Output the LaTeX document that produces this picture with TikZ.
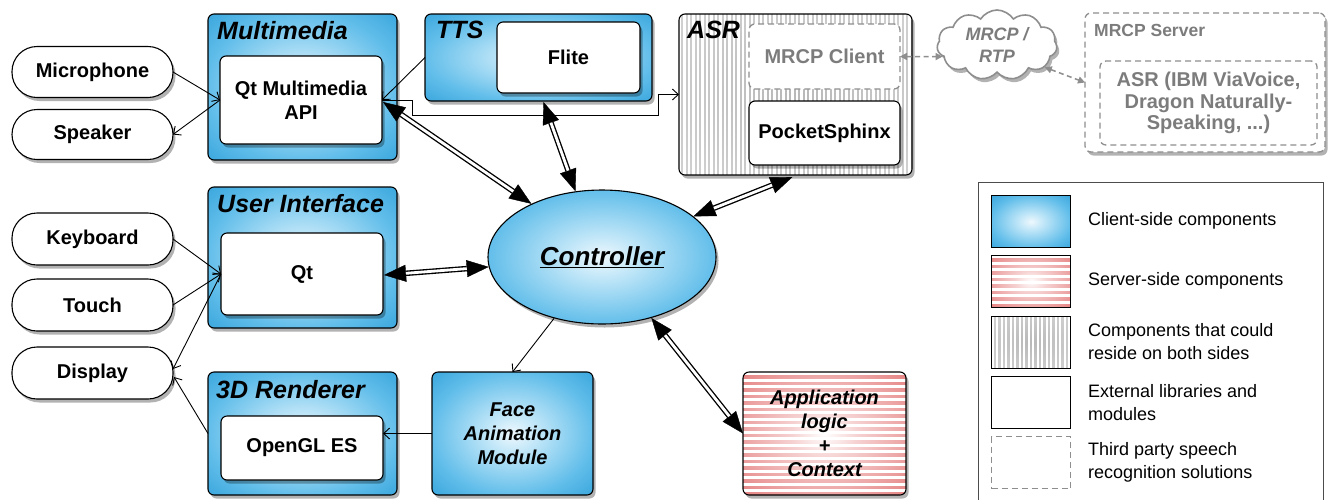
\documentclass[tikz,border=0pt]{standalone}
\usepackage{fontspec}
\setmainfont{Liberation Sans}
\usetikzlibrary{arrows.meta,shapes.geometric,shapes.symbols,shadows,calc}
\definecolor{bA}{HTML}{EEF8FD}
\definecolor{bB}{HTML}{C0E6F8}
\definecolor{bC}{HTML}{62BEEA}
\definecolor{bD}{HTML}{2298D5}
\definecolor{bE}{HTML}{1187C6}
\definecolor{rA}{HTML}{FFFFFF}
\definecolor{rB}{HTML}{F6D2D2}
\definecolor{rC}{HTML}{E68484}
\definecolor{rD}{HTML}{DB6464}
\definecolor{gA}{HTML}{B8B8B8}
\definecolor{gB}{HTML}{DCDCDC}
\definecolor{txtgray}{HTML}{7C7C7C}
\definecolor{dashgray}{HTML}{8E8E8E}
\pgfdeclareradialshading{bluerad}{\pgfpoint{0bp}{0bp}}{color(0bp)=(bA); color(8bp)=(bB); color(25bp)=(bC); color(42bp)=(bD); color(50bp)=(bE)}
\pgfdeclareradialshading{redrad}{\pgfpoint{0bp}{0bp}}{color(0bp)=(rA); color(10bp)=(rB); color(35bp)=(rC); color(50bp)=(rD)}
\pgfdeclareradialshading{grayrad}{\pgfpoint{0bp}{0bp}}{color(0bp)=(gA); color(50bp)=(gB)}
\tikzset{
  base/.style={draw=black, line width=1.1pt, rounded corners=6pt, inner sep=0pt, outer sep=0pt, align=center},
  shadowed/.style={drop shadow={shadow xshift=2.5pt, shadow yshift=-3.5pt, opacity=0.3, fill=black}},
  lbl/.style={font=\fontsize{20}{24}\selectfont\bfseries},
  ilbl/.style={font=\fontsize{20}{24}\selectfont\bfseries\itshape},
  client/.style={base, shadowed, shading=bluerad, ilbl},
  lib/.style={base, shadowed, fill=white, lbl},
  pill/.style={base, shadowed, fill=white, rounded corners=25pt, lbl, minimum width=161pt},
  ttl/.style={font=\fontsize{25}{30}\selectfont\bfseries\itshape, anchor=base west, inner sep=0pt},
  hstripes/.style={path picture={
      \foreach \k in {0,6.5,...,200}{
        \draw[white,line width=3pt] ($(path picture bounding box.north west)+(0,\k+1.5)$) -- ($(path picture bounding box.north east)+(0,\k+1.5)$);}}},
  vstripes/.style={path picture={
      \foreach \k in {0,4.5,...,260}{
        \draw[white,line width=2.2pt] ($(path picture bounding box.north west)+(\k+1,0)$) -- ($(path picture bounding box.south west)+(\k+1,0)$);}}},
  server/.style={base, shadowed, shading=redrad, hstripes, ilbl},
  both/.style={base, shadowed, shading=grayrad, vstripes},
  third/.style={base, draw=dashgray, line width=1.3pt, dash pattern=on 6pt off 4pt, fill=white},
  arr/.style={line width=0.9pt, -{Straight Barb[length=6pt,width=11pt]}},
  dasharr/.style={draw=dashgray, line width=1.5pt, dash pattern=on 5pt off 3.5pt, {Triangle[length=7pt,width=7pt]}-{Triangle[length=7pt,width=7pt]}},
  legtxt/.style={anchor=west, align=left, inner sep=0pt, font=\fontsize{18}{23}\selectfont},
  swatch/.style={draw=black, line width=1.2pt, minimum width=79pt, minimum height=52pt, inner sep=0pt, anchor=north west}
}
\newcommand\dblarr[2]{%
  \draw[line width=5.5pt, {Triangle[length=22pt,width=17pt,line width=0.4pt]}-{Triangle[length=22pt,width=17pt,line width=0.4pt]}] #1 -- #2;
  \draw[white, line width=2.8pt, shorten <=22pt, shorten >=22pt] #1 -- #2;}
\begin{document}
\begin{tikzpicture}[x=1pt,y=-1pt]
\useasboundingbox (0,0) rectangle (1332,499);
\fill[white] (0,0) rectangle (1332,499);

% left pills
\node[pill, minimum height=51pt] (mic) at (92.5,72) {Microphone};
\node[pill, minimum height=50pt] (spk) at (92.5,134.5) {Speaker};
\node[pill, minimum height=52pt] (kbd) at (92.5,239) {Keyboard};
\node[pill, minimum height=52pt] (tch) at (92.5,305) {Touch};
\node[pill, minimum height=52pt] (disp) at (92.5,373) {Display};

% Multimedia
\node[client, minimum width=189pt, minimum height=146pt] (mm) at (302.5,87) {};
\node[ttl] (mmt) at (217,39) {Multimedia};
\node[lib, minimum width=162pt, minimum height=88pt] (qtmm) at (301,100) {Qt Multimedia\\API};

% TTS
\node[client, minimum width=227pt, minimum height=87pt] (tts) at (538.5,57.5) {};
\node[ttl] (ttst) at (436,38) {TTS};
\node[lib, minimum width=143pt, minimum height=71pt] (flite) at (568.5,57.5) {Flite};

% ASR
\node[both, minimum width=233pt, minimum height=161pt] (asr) at (795.5,94.5) {};
\node[ttl] (asrt) at (687,38) {ASR};
\node[third, lbl, text=txtgray, minimum width=151pt, minimum height=65pt] (mrcpc) at (824.5,56.5) {MRCP Client};
\node[lib, minimum width=151pt, minimum height=64pt] (psx) at (824.5,133) {PocketSphinx};

% MRCP cloud
\node[cloud, cloud puffs=11, cloud puff arc=115, aspect=1.7, draw=dashgray, line width=1.6pt, fill=white, shadowed,
      minimum width=120pt, minimum height=70pt, inner sep=0pt, align=center, text=txtgray,
      font=\fontsize{18}{22}\selectfont\bfseries\itshape] (cloud) at (997,45) {MRCP /\\RTP};

% MRCP Server
\node[third, shadowed, minimum width=240pt, minimum height=139pt] (srv) at (1205,82.5) {};
\node[anchor=base west, inner sep=0pt, text=txtgray, font=\fontsize{17.5}{21}\selectfont\bfseries] (srvt) at (1094,36) {MRCP Server};
\node[third, lbl, text=txtgray, minimum width=217pt, minimum height=84pt, font=\fontsize{20}{21.5}\selectfont\bfseries] (srvin) at (1208.5,103) {ASR (IBM ViaVoice,\\Dragon Naturally-\\Speaking, ...)};

% User Interface
\node[client, minimum width=189pt, minimum height=141pt] (ui) at (302.5,257.5) {};
\node[ttl] (uit) at (217,212) {User Interface};
\node[lib, minimum width=162pt, minimum height=82pt] (qt) at (302,274) {Qt};

% 3D Renderer
\node[client, minimum width=189pt, minimum height=123pt] (rend) at (302.5,433.5) {};
\node[ttl] (rendt) at (216,398) {3D Renderer};
\node[lib, minimum width=162pt, minimum height=64pt] (ogl) at (302,448) {OpenGL ES};

% Face Animation
\node[client, minimum width=161pt, minimum height=123pt] (face) at (512.5,433.5) {Face\\Animation\\Module};

% Application logic
\node[server, minimum width=163pt, minimum height=123pt] (app) at (824.5,433.5) {Application\\logic\\+\\Context};

% Controller
\node[ellipse, draw=black, line width=1.1pt, shading=bluerad, shadowed, minimum width=228pt, minimum height=134pt, inner sep=0pt,
      font=\fontsize{26}{30}\selectfont\bfseries\itshape] (ctrl) at (602,257) {\underline{Controller}};

% Legend
\node[draw=black!70, line width=1pt, minimum width=345pt, minimum height=340pt, anchor=north west, inner sep=0pt] (legend) at (978,182) {};
\node[swatch, shading=bluerad] (sw1) at (991,195) {};
\node[swatch, shading=redrad, hstripes] (sw2) at (991,254.5) {};
\node[swatch, shading=grayrad, vstripes] (sw3) at (991,315.5) {};
\node[swatch, fill=white] (sw4) at (991,376) {};
\node[swatch, draw=dashgray, dash pattern=on 6pt off 4pt] (sw5) at (991,436) {};
\node[legtxt] (lt1) at (1088,221) {Client-side components};
\node[legtxt] (lt2) at (1088,281) {Server-side components};
\node[legtxt] (lt3) at (1088,342) {Components that could\\reside on both sides};
\node[legtxt] (lt4) at (1088,403) {External libraries and\\modules};
\node[legtxt] (lt5) at (1088,462) {Third party speech\\recognition solutions};

% thin arrows
\draw[arr] (mic.east) -- (qtmm.west);
\draw[arr] (qtmm.west) -- (spk.east);
\draw[arr] (tts.west) -- (qtmm.east);
\draw[arr] (qtmm.east) -- ++(30,0) -- ++(0,15) -- ++(246,0) |- (asr.west);
\draw[arr] (kbd.east) -- (qt.west);
\draw[arr] (tch.east) -- (qt.west);
\draw[arr] (qt.west) -- ($(disp.east)+(0,-4)$);
\draw[arr] (rend.west) -- ($(disp.east)+(1,4)$);
\draw[arr] (ctrl.232) -- (face.north);
\draw[arr] (face.west) -- (face.west -| ogl.east);

% double arrows
\dblarr{($(qtmm.east)+(1,2)$)}{(ctrl.143)}
\dblarr{($(tts.south)+(5,1)$)}{(ctrl.112)}
\dblarr{($(asr.south)+(-3,2)$)}{(ctrl.24)}
\dblarr{($(qt.east)+(1,1)$)}{(ctrl.185)}
\dblarr{(ctrl.309)}{(app.west)}

% dashed arrows
\draw[dasharr] (mrcpc.east) -- (cloud.192);
\draw[dasharr] (cloud.335) -- (srv.west);
\end{tikzpicture}
\end{document}
